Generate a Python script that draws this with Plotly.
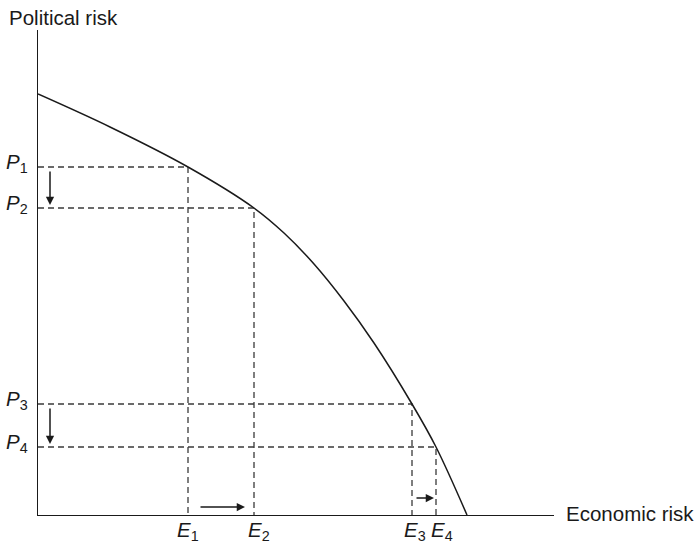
import plotly.graph_objects as go

# Curve (economic risk vs political risk), arbitrary units
curve_x = [0, 7.2, 15.0, 21.6, 24.6, 27.6, 30.6, 33.6, 37.4, 39.8, 42.9]
curve_y = [42.1, 38.8, 34.8, 30.7, 28.2, 25.1, 21.4, 17.2, 11.1, 6.8, 0]

# Marked points on the curve
e_values = [15.0, 21.6, 37.4, 39.8]
p_values = [34.8, 30.7, 11.1, 6.8]
e_labels = ["<i>E</i><sub>1</sub>", "<i>E</i><sub>2</sub>", "<i>E</i><sub>3</sub>", "<i>E</i><sub>4</sub>"]
p_labels = ["<i>P</i><sub>1</sub>", "<i>P</i><sub>2</sub>", "<i>P</i><sub>3</sub>", "<i>P</i><sub>4</sub>"]

x_title = "Economic risk"
y_title = "Political risk"

X_MAX = 51.6
Y_MAX = 48.5

FONT = "Liberation Sans, Arial, sans-serif"
INK = "#1a1a1a"
DASH = "#3a3a3a"

# horizontal nudge of each E label relative to its guide line (data units)
E_LABEL_SHIFT = [0.0, 0.5, 0.3, 0.6]


def px(v):
    return v / X_MAX


def py(v):
    return v / Y_MAX


fig = go.Figure()

# dashed guide lines
for e, p in zip(e_values, p_values):
    fig.add_trace(go.Scatter(x=[0, e, e], y=[p, p, 0], mode="lines",
                             line=dict(color=DASH, width=1.3, dash="6px,4px"),
                             hoverinfo="skip", showlegend=False))

# curve
fig.add_trace(go.Scatter(x=curve_x, y=curve_y, mode="lines",
                         line=dict(color=INK, width=1.5, shape="spline", smoothing=1.0),
                         hoverinfo="skip", showlegend=False))

annotations = []
# P labels
for p, lab in zip(p_values, p_labels):
    annotations.append(dict(x=px(-0.8), y=py(p + 0.4), xref="paper", yref="paper", text=lab,
                            showarrow=False, xanchor="right", yanchor="middle",
                            font=dict(family=FONT, size=20.5, color=INK)))
# E labels
for e, lab, s in zip(e_values, e_labels, E_LABEL_SHIFT):
    annotations.append(dict(x=px(e + s), y=py(-1.55), xref="paper", yref="paper", text=lab,
                            showarrow=False, xanchor="center", yanchor="middle",
                            font=dict(family=FONT, size=20.5, color=INK)))

# down arrows (P1->P2, P3->P4)
for i in (0, 2):
    annotations.append(dict(x=1.2, y=p_values[i + 1] + 0.3, ax=1.2, ay=p_values[i] - 0.3,
                            xref="x", yref="y", axref="x", ayref="y", text="",
                            showarrow=True, arrowhead=2, arrowsize=1.1, arrowwidth=1.5,
                            arrowcolor=INK, standoff=0, startstandoff=0))
# right arrows (E1->E2, E3->E4)
annotations.append(dict(x=e_values[1] - 0.9, y=0.8, ax=e_values[0] + 1.1, ay=0.8,
                        xref="x", yref="y", axref="x", ayref="y", text="",
                        showarrow=True, arrowhead=2, arrowsize=1.1, arrowwidth=1.5,
                        arrowcolor=INK, standoff=0, startstandoff=0))
annotations.append(dict(x=e_values[3] - 0.2, y=1.7, ax=e_values[2] + 0.3, ay=1.7,
                        xref="x", yref="y", axref="x", ayref="y", text="",
                        showarrow=True, arrowhead=2, arrowsize=1.1, arrowwidth=1.5,
                        arrowcolor=INK, standoff=0, startstandoff=0))

# axis titles
annotations.append(dict(x=px(-3.1), y=py(49.8), xref="paper", yref="paper", text=y_title,
                        showarrow=False, xanchor="left", yanchor="middle",
                        font=dict(family=FONT, size=20.5, color=INK)))
annotations.append(dict(x=px(52.6), y=py(0.2), xref="paper", yref="paper", text=x_title,
                        showarrow=False, xanchor="left", yanchor="middle",
                        font=dict(family=FONT, size=20.5, color=INK)))

fig.update_layout(
    width=694, height=543,
    margin=dict(l=38, r=140, t=30, b=28),
    paper_bgcolor="white", plot_bgcolor="white",
    annotations=annotations,
    xaxis=dict(range=[0, X_MAX], showgrid=False, zeroline=False, showticklabels=False,
               ticks="", showline=True, linecolor=INK, linewidth=1.3, fixedrange=True),
    yaxis=dict(range=[0, Y_MAX], showgrid=False, zeroline=False, showticklabels=False,
               ticks="", showline=True, linecolor=INK, linewidth=1.3, fixedrange=True),
)

fig.write_html("out.html", config={"displayModeBar": False},
               post_script="document.body.style.margin='0';document.body.style.overflow='hidden';")
